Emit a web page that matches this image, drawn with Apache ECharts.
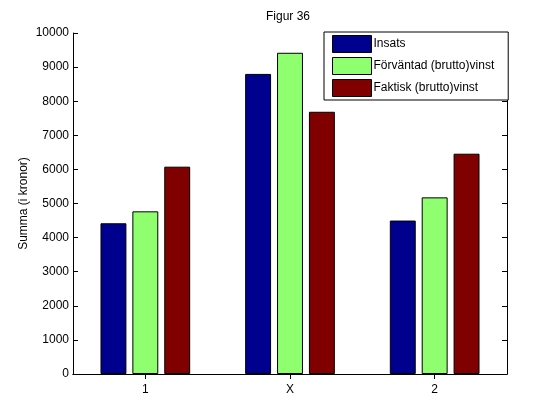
<!DOCTYPE html>
<html>
<head>
<meta charset="utf-8">
<script src="https://cdn.jsdelivr.net/npm/echarts@6/dist/echarts.min.js"></script>
<style>html,body{margin:0;padding:0;background:#fff;}#c{width:560px;height:420px;}</style>
</head>
<body>
<div id="c"></div>
<script>
var categories = ['1', 'X', '2'];
var insats = [4420, 8800, 4500];
var forvantad = [4770, 9420, 5180];
var faktisk = [6080, 7690, 6460];
var seriesNames = ['Insats', 'Förväntad (brutto)vinst', 'Faktisk (brutto)vinst'];
var colors = ['#00008F', '#8FFF70', '#800000'];

var FONT = 'Liberation Sans';
var FS = 12;
var chart = echarts.init(document.getElementById('c'), null, {renderer: 'canvas'});
var axisLine = {show: true, lineStyle: {color: '#000', width: 1}};
var tick = {show: true, inside: true, length: 5, lineStyle: {color: '#000'}};
function bar(name, data, color) {
  return {
    name: name, type: 'bar', data: data, xAxisIndex: 0, yAxisIndex: 0,
    barGap: '23%', barCategoryGap: '38%',
    itemStyle: {color: color, borderColor: '#000', borderWidth: 1},
    emphasis: {disabled: true}, animation: false
  };
}
chart.setOption({
  animation: false,
  backgroundColor: '#fff',
  textStyle: {fontFamily: FONT},
  title: {
    text: 'Figur 36', left: 288, top: 11, textAlign: 'center', padding: 0,
    textStyle: {fontFamily: FONT, fontSize: FS, fontWeight: 'normal', color: '#000'}
  },
  grid: {left: 73, right: 53, top: 33, bottom: 46},
  legend: {
    orient: 'vertical', left: 324, top: 32,
    data: seriesNames,
    icon: 'rect', itemWidth: 39, itemHeight: 17, itemGap: 4,
    padding: [3, 14, 3, 8],
    backgroundColor: '#fff', borderColor: '#000', borderWidth: 1,
    itemStyle: {borderColor: '#000', borderWidth: 1},
    textStyle: {fontFamily: FONT, fontSize: FS, color: '#000', padding: [0, 0, 0, -3]},
    selectedMode: false
  },
  xAxis: [{
    type: 'category', data: categories, position: 'bottom',
    axisLine: axisLine, axisTick: Object.assign({alignWithLabel: true, interval: 0}, tick),
    axisLabel: {fontFamily: FONT, fontSize: FS, color: '#000', margin: 10},
    splitLine: {show: false}
  }, {
    type: 'category', data: categories, position: 'top',
    axisLine: axisLine, axisTick: Object.assign({alignWithLabel: true, interval: 0}, tick),
    axisLabel: {show: false}, splitLine: {show: false}
  }],
  yAxis: [{
    type: 'value', min: 0, max: 10000, interval: 1000, position: 'left',
    name: 'Summa (i kronor)', nameLocation: 'middle', nameGap: 43, nameRotate: 90,
    nameMoveOverlap: false,
    nameTextStyle: {fontFamily: FONT, fontSize: FS, color: '#000'},
    axisLine: axisLine, axisTick: tick,
    axisLabel: {fontFamily: FONT, fontSize: FS, color: '#000', margin: 4,
      formatter: function (v) { return String(v); }},
    splitLine: {show: false}
  }, {
    type: 'value', min: 0, max: 10000, interval: 1000, position: 'right',
    axisLine: axisLine, axisTick: tick, axisLabel: {show: false}, splitLine: {show: false}
  }],
  series: [
    bar(seriesNames[0], insats, colors[0]),
    bar(seriesNames[1], forvantad, colors[1]),
    bar(seriesNames[2], faktisk, colors[2])
  ]
});
</script>
</body>
</html>
